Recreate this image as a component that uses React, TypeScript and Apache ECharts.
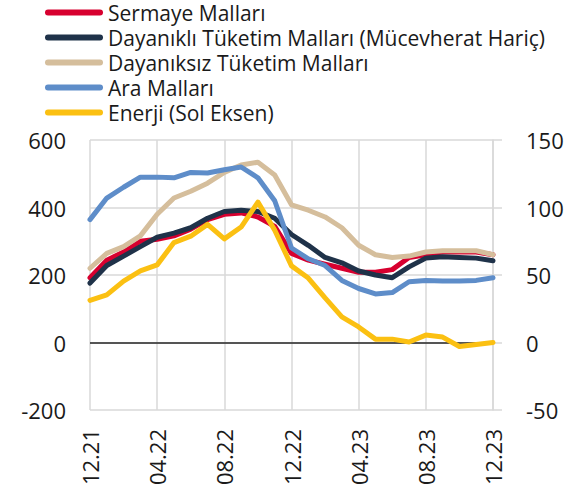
import React, { useEffect, useRef } from "react";
import * as echarts from "echarts";

const months = [
  "12.21", "01.22", "02.22", "03.22", "04.22", "05.22", "06.22", "07.22", "08.22",
  "09.22", "10.22", "11.22", "12.22", "01.23", "02.23", "03.23", "04.23", "05.23",
  "06.23", "07.23", "08.23", "09.23", "10.23", "11.23", "12.23",
];

const sermaye = [48, 61, 67, 75, 76.5, 79, 84, 91, 95, 96, 93, 86, 66, 61, 58, 55, 52, 52, 54, 63, 65, 67, 67, 67, 65];
const dayanikli = [44, 57, 64, 71, 78, 81, 85, 92, 97, 98, 97, 92, 80, 72, 63, 59, 53, 50, 48, 56, 62.5, 63.5, 63, 62.5, 60.5];
const dayaniksiz = [55, 66, 71, 79, 95, 107, 112, 118, 126, 131.5, 133.5, 124, 102, 98, 93, 85, 72, 65, 63, 64, 67, 68, 68, 68, 65];
const ara = [91, 107, 115, 122.5, 122.5, 122, 126, 125.5, 128, 130, 122, 105, 70, 62, 57, 46, 40, 36, 37, 45, 46, 45.5, 45.5, 46, 48];
const enerji = [125, 141, 182, 212, 230, 296, 315, 350, 307, 342, 416, 333, 227, 191, 132, 76, 46, 10, 10, 1.5, 22, 16, -12, -6, 0];

const names = [
  "Sermaye Malları",
  "Dayanıklı Tüketim Malları (Mücevherat Hariç)",
  "Dayanıksız Tüketim Malları",
  "Ara Malları",
  "Enerji (Sol Eksen)",
];
const colors = ["#D7002F", "#1F3249", "#D5BE9C", "#5E8DC9", "#FBC012"];

const FONT = "'Open Sans', 'Noto Sans', sans-serif";
const GRID = "#D9D9D9";

export default function App() {
  const ref = useRef<HTMLDivElement>(null);
  useEffect(() => {
    if (!ref.current) return;
    const chart = echarts.init(ref.current, undefined, { renderer: "svg" });
    const seriesData = [sermaye, dayanikli, dayaniksiz, ara, enerji];
    const series: any[] = seriesData.map((d, i) => ({
      name: names[i],
      type: "line",
      data: d,
      yAxisIndex: i === 4 ? 0 : 1,
      symbol: "none",
      lineStyle: { color: colors[i], width: 5, cap: "round", join: "round" },
      itemStyle: { color: colors[i] },
      z: 3 + i,
      markLine:
        i === 4
          ? {
              silent: true,
              symbol: ["none", "none"],
              label: { show: false },
              lineStyle: { color: "#262626", width: 1.5, type: "solid" },
              data: [{ yAxis: 0 }],
              z: 2,
            }
          : undefined,
    }));
    chart.setOption({
      animation: false,
      backgroundColor: "#fff",
      textStyle: { fontFamily: FONT },
      legend: {
        orient: "vertical",
        left: 40,
        top: -3,
        itemWidth: 58,
        itemHeight: 6,
        itemGap: 4,
        icon: "path://M3,0 L55,0 A3,3 0 0 1 55,6 L3,6 A3,3 0 0 1 3,0 Z",
        textStyle: { fontFamily: FONT, fontSize: 21, color: "#1a1a1a", lineHeight: 21 },
        data: names,
      },
      grid: { left: 90, top: 140, width: 403, height: 270, containLabel: false },
      xAxis: {
        type: "category",
        data: months,
        boundaryGap: false,
        axisLine: { show: false },
        axisTick: { show: false },
        splitLine: { show: true, interval: 3, lineStyle: { color: GRID, width: 1.5 } },
        axisLabel: {
          interval: 3,
          rotate: 90,
          margin: 19,
          fontSize: 22,
          color: "#1a1a1a",
          fontFamily: FONT,
        },
      },
      yAxis: [
        {
          type: "value",
          min: -200,
          max: 600,
          interval: 200,
          position: "left",
          axisLine: { show: false },
          axisTick: { show: false },
          splitLine: { show: true, lineStyle: { color: GRID, width: 1.5 } },
          axisLabel: { margin: 24, fontSize: 22, color: "#1a1a1a", fontFamily: FONT },
        },
        {
          type: "value",
          min: -50,
          max: 150,
          interval: 50,
          position: "right",
          axisLine: { show: true, lineStyle: { color: GRID, width: 1.5 } },
          axisTick: { show: true, length: 9, lineStyle: { color: GRID, width: 1.5 } },
          splitLine: { show: false },
          axisLabel: { margin: 33, fontSize: 22, color: "#1a1a1a", fontFamily: FONT },
        },
      ],
      series,
    });
    return () => chart.dispose();
  }, []);
  return (
    <div
      ref={ref}
      style={{ position: "fixed", left: 0, top: 0, width: 586, height: 495 }}
    />
  );
}
